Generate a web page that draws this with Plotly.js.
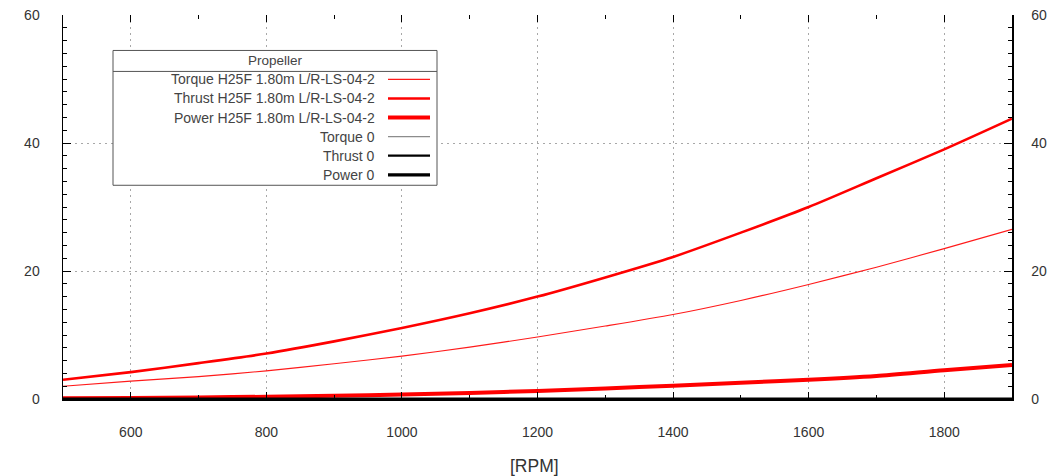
<!DOCTYPE html>
<html>
<head>
<meta charset="utf-8">
<script src="https://cdn.plot.ly/plotly-3.0.1.min.js"></script>
<style>
html,body{margin:0;padding:0;background:#fff;}
#chart{width:1061px;height:476px;}
</style>
</head>
<body>
<div id="chart"></div>
<script>
// ---- data ----
const rpm        = [500, 600, 700, 800, 900, 1000, 1100, 1200, 1300, 1400, 1500, 1600, 1700, 1800, 1900];
const torqueH25F = [2.0, 2.8, 3.5, 4.4, 5.5, 6.7, 8.1, 9.7, 11.4, 13.2, 15.4, 17.9, 20.6, 23.5, 26.5];
const thrustH25F = [3.0, 4.2, 5.6, 7.1, 9.0, 11.1, 13.4, 16.0, 19.0, 22.2, 26.0, 30.0, 34.5, 39.0, 43.8];
const powerH25F  = [0.1, 0.17, 0.25, 0.35, 0.5, 0.7, 0.95, 1.25, 1.65, 2.07, 2.55, 3.0, 3.6, 4.5, 5.3];
const torque0    = [0, 0, 0, 0, 0, 0, 0, 0, 0, 0, 0, 0, 0, 0, 0];
const thrust0    = [0, 0, 0, 0, 0, 0, 0, 0, 0, 0, 0, 0, 0, 0, 0];
const power0     = [0, 0, 0, 0, 0, 0, 0, 0, 0, 0, 0, 0, 0, 0, 0];

const seriesNames = [
  "Torque H25F 1.80m L/R-LS-04-2",
  "Thrust H25F 1.80m L/R-LS-04-2",
  "Power H25F 1.80m L/R-LS-04-2",
  "Torque 0",
  "Thrust 0",
  "Power 0"
];
const legendTitle = "Propeller";
const xTitle = "[RPM]";
const xTickVals = [600, 800, 1000, 1200, 1400, 1600, 1800];
const yTickVals = [0, 20, 40, 60];

// ---- styles ----
const styles = [
  {color: "#ff1a1a", width: 1.1},
  {color: "#ff0000", width: 2.6},
  {color: "#ff0000", width: 4},
  {color: "#8c8c8c", width: 1.3},
  {color: "#000000", width: 2.2},
  {color: "#000000", width: 3.2}
];
const seriesY = [torqueH25F, thrustH25F, powerH25F, torque0, thrust0, power0];

const W = 1061, H = 476;
const M = {l: 63, r: W - 1012, t: 14.5, b: H - 399};
const pw = W - M.l - M.r, ph = H - M.t - M.b;
const px = x => (x - M.l) / pw;
const py = y => (H - M.b - y) / ph;

const traces = seriesY.map((ys, i) => ({
  x: rpm, y: ys, type: "scatter", mode: "lines",
  name: seriesNames[i],
  line: {color: styles[i].color, width: styles[i].width, shape: "spline", smoothing: 0.7},
  xaxis: i >= 3 ? "x2" : "x",
  yaxis: i >= 3 ? "y2" : "y",
  hoverinfo: "skip",
  showlegend: false
}));

const font = {family: "Liberation Sans, Arial, sans-serif", size: 14, color: "#333"};

// ---- hand-built gnuplot-like key ----
const shapes = [];
const annotations = [];
const box = {x0: 113, x1: 437, y0: 50, y1: 185, hdr: 71};
shapes.push({type: "rect", xref: "paper", yref: "paper",
  x0: px(box.x0), x1: px(box.x1), y0: py(box.y1), y1: py(box.y0),
  fillcolor: "#ffffff", line: {color: "#555", width: 1}, layer: "above"});
shapes.push({type: "line", xref: "paper", yref: "paper",
  x0: px(box.x0), x1: px(box.x1), y0: py(box.hdr), y1: py(box.hdr),
  line: {color: "#555", width: 1}, layer: "above"});
annotations.push({xref: "paper", yref: "paper", x: px((box.x0 + box.x1) / 2), y: py(60),
  text: legendTitle, showarrow: false, xanchor: "center", yanchor: "middle",
  font: {family: font.family, size: 13.5, color: "#444"}});
const rowY0 = 79, rowStep = 19.1;
seriesNames.forEach((n, i) => {
  const yy = rowY0 + i * rowStep;
  annotations.push({xref: "paper", yref: "paper", x: px(377), y: py(yy),
    text: n, showarrow: false, xanchor: "right", yanchor: "middle",
    font: {family: font.family, size: 14, color: "#444"}});
  shapes.push({type: "line", xref: "paper", yref: "paper",
    x0: px(388), x1: px(430), y0: py(yy), y1: py(yy),
    line: {color: styles[i].color, width: styles[i].width}, layer: "above"});
});
annotations.push({xref: "paper", yref: "paper", x: px(534), y: py(466),
  text: xTitle, showarrow: false, xanchor: "center", yanchor: "middle",
  font: {family: font.family, size: 17.5, color: "#333"}});

const gridStyle = {showgrid: true, gridcolor: "#a8a8a8", griddash: "2px,4px", gridwidth: 1};

const layout = {
  width: W, height: H,
  margin: M,
  paper_bgcolor: "#fff", plot_bgcolor: "#fff",
  font: font,
  showlegend: false,
  xaxis: Object.assign({
    range: [500, 1900], tickvals: xTickVals, ticks: "inside", ticklen: 7, tickcolor: "#000", tickwidth: 1,
    minor: {dtick: 100, tick0: 500, ticks: "inside", ticklen: 4, tickcolor: "#000", showgrid: false},
    showline: true, linecolor: "#000", linewidth: 2, zeroline: false,
    ticklabelstandoff: 19, tickfont: font
  }, gridStyle),
  yaxis: Object.assign({
    range: [0, 60], tickvals: yTickVals, ticks: "inside", ticklen: 8, tickcolor: "#000", tickwidth: 1,
    minor: {dtick: 2, tick0: 0, ticks: "inside", ticklen: 4, tickcolor: "#000", showgrid: false},
    showline: true, linecolor: "#000", linewidth: 1.5, zeroline: false,
    ticklabelstandoff: 19, tickfont: font
  }, gridStyle),
  xaxis2: {
    overlaying: "x", side: "top", anchor: "y2", range: [500, 1900], tickvals: xTickVals,
    ticks: "inside", ticklen: 7, tickcolor: "#000", showticklabels: false,
    minor: {dtick: 100, tick0: 500, ticks: "inside", ticklen: 4, tickcolor: "#000", showgrid: false},
    showline: false, showgrid: false, zeroline: false
  },
  yaxis2: {
    overlaying: "y", side: "right", anchor: "x2", range: [0, 60], tickvals: yTickVals,
    ticks: "inside", ticklen: 8, tickcolor: "#000",
    minor: {dtick: 2, tick0: 0, ticks: "inside", ticklen: 4, tickcolor: "#000", showgrid: false},
    showline: true, linecolor: "#000", linewidth: 1.5, showgrid: false, zeroline: false,
    ticklabelstandoff: 15, tickfont: font
  },
  shapes: shapes,
  annotations: annotations
};

Plotly.newPlot("chart", traces, layout, {staticPlot: true, displayModeBar: false});
</script>
</body>
</html>
